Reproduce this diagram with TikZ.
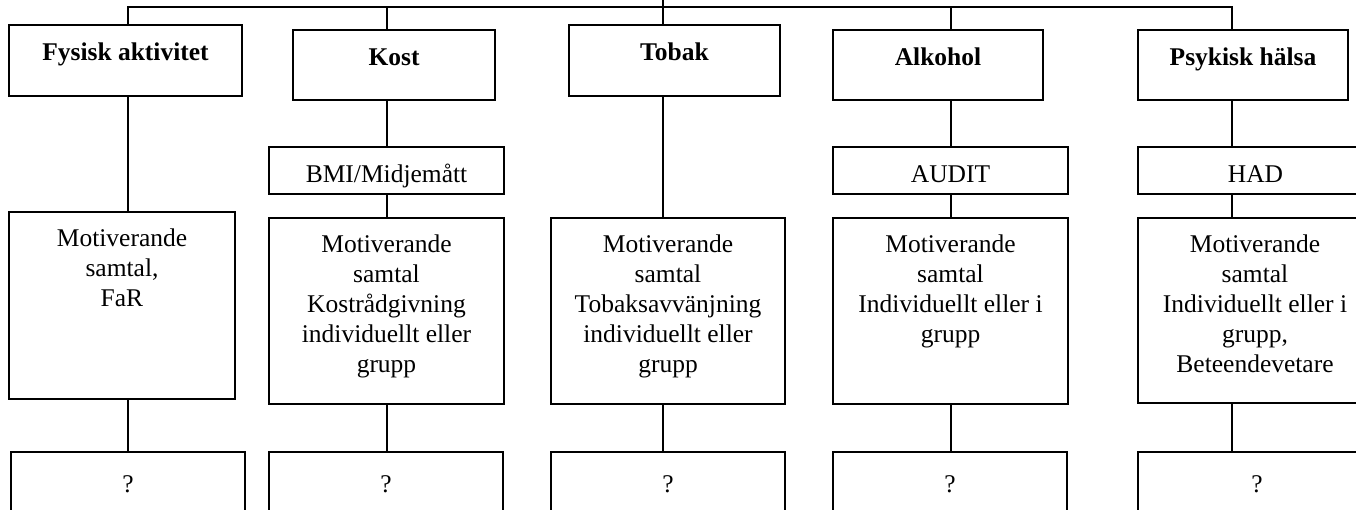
\documentclass[tikz,border=0pt]{standalone}
\usepackage{fontspec}
\setmainfont{Liberation Serif}
\tikzset{
  bx/.style={draw, line width=1.5pt, inner sep=0pt, outer sep=0pt, anchor=north west},
  link/.style={line width=1.5pt}
}
% name, x, y, w, h, strut, text
\newcommand\mkbox[7]{\node[bx] (#1) at (#2,#3) {\parbox[c][#5pt][t]{#4pt}{\centering\fontsize{25.5}{29.8}\selectfont\rule{0pt}{#6pt}#7}};}
\begin{document}
\begin{tikzpicture}[x=1pt,y=-1pt]
\clip (0,0) rectangle (1356,510);
\fill[white] (0,0) rectangle (1356,510);
% column coordinates
\coordinate (c1) at (128,0);
\coordinate (c2) at (387,0);
\coordinate (c3) at (663,0);
\coordinate (c4) at (951,0);
\coordinate (c5) at (1232,0);
\coordinate (bus) at (0,7);
\coordinate (root) at (663,-3);
% top row
\mkbox{fa}{9}{25}{233}{71}{36}{\textbf{Fysisk aktivitet}}
\mkbox{kost}{293}{30}{202}{70}{36}{\textbf{Kost}}
\mkbox{tob}{569}{25}{211}{71}{36}{\textbf{Tobak}}
\mkbox{alk}{833}{30}{210}{70}{36}{\textbf{Alkohol}}
\mkbox{psy}{1138}{30}{210}{70}{36}{\textbf{Psykisk hälsa}}
% measurement row
\mkbox{bmi}{269}{147}{235}{47}{36}{BMI/Midjemått}
\mkbox{aud}{833}{147}{235}{47}{36}{AUDIT}
\mkbox{had}{1138}{147}{235}{47}{36}{HAD}
% intervention row
\mkbox{fab}{9}{212}{226}{187}{35}{Motiverande\\samtal,\\FaR}
\mkbox{kob}{269}{218}{235}{186}{35}{Motiverande\\samtal\\Kostrådgivning\\individuellt eller\\grupp}
\mkbox{tobb}{551}{218}{234}{186}{35}{Motiverande\\samtal\\Tobaksavvänjning\\individuellt eller\\grupp}
\mkbox{alkb}{833}{218}{235}{186}{35}{Motiverande\\samtal\\Individuellt eller i\\grupp}
\mkbox{psyb}{1138}{218}{234}{185}{35}{Motiverande\\samtal\\Individuellt eller i\\grupp,\\Beteendevetare}
% outcome row
\mkbox{q1}{11}{452}{234}{80}{40}{?}
\mkbox{q2}{269}{452}{234}{80}{40}{?}
\mkbox{q3}{551}{452}{234}{80}{40}{?}
\mkbox{q4}{833}{452}{234}{80}{40}{?}
\mkbox{q5}{1138}{452}{238}{80}{40}{?}
% bus
\draw[link] (c1|-fa.north) -- (c1|-bus) -- (c5|-bus) -- (c5|-psy.north);
\draw[link] (c2|-bus) -- (c2|-kost.north);
\draw[link] (c3|-root) -- (c3|-tob.north);
\draw[link] (c4|-bus) -- (c4|-alk.north);
% column 1
\draw[link] (c1|-fa.south) -- (c1|-fab.north);
\draw[link] (c1|-fab.south) -- (c1|-q1.north);
% column 2
\draw[link] (c2|-kost.south) -- (c2|-bmi.north);
\draw[link] (c2|-bmi.south) -- (c2|-kob.north);
\draw[link] (c2|-kob.south) -- (c2|-q2.north);
% column 3
\draw[link] (c3|-tob.south) -- (c3|-tobb.north);
\draw[link] (c3|-tobb.south) -- (c3|-q3.north);
% column 4
\draw[link] (c4|-alk.south) -- (c4|-aud.north);
\draw[link] (c4|-aud.south) -- (c4|-alkb.north);
\draw[link] (c4|-alkb.south) -- (c4|-q4.north);
% column 5
\draw[link] (c5|-psy.south) -- (c5|-had.north);
\draw[link] (c5|-had.south) -- (c5|-psyb.north);
\draw[link] (c5|-psyb.south) -- (c5|-q5.north);
\end{tikzpicture}
\end{document}
